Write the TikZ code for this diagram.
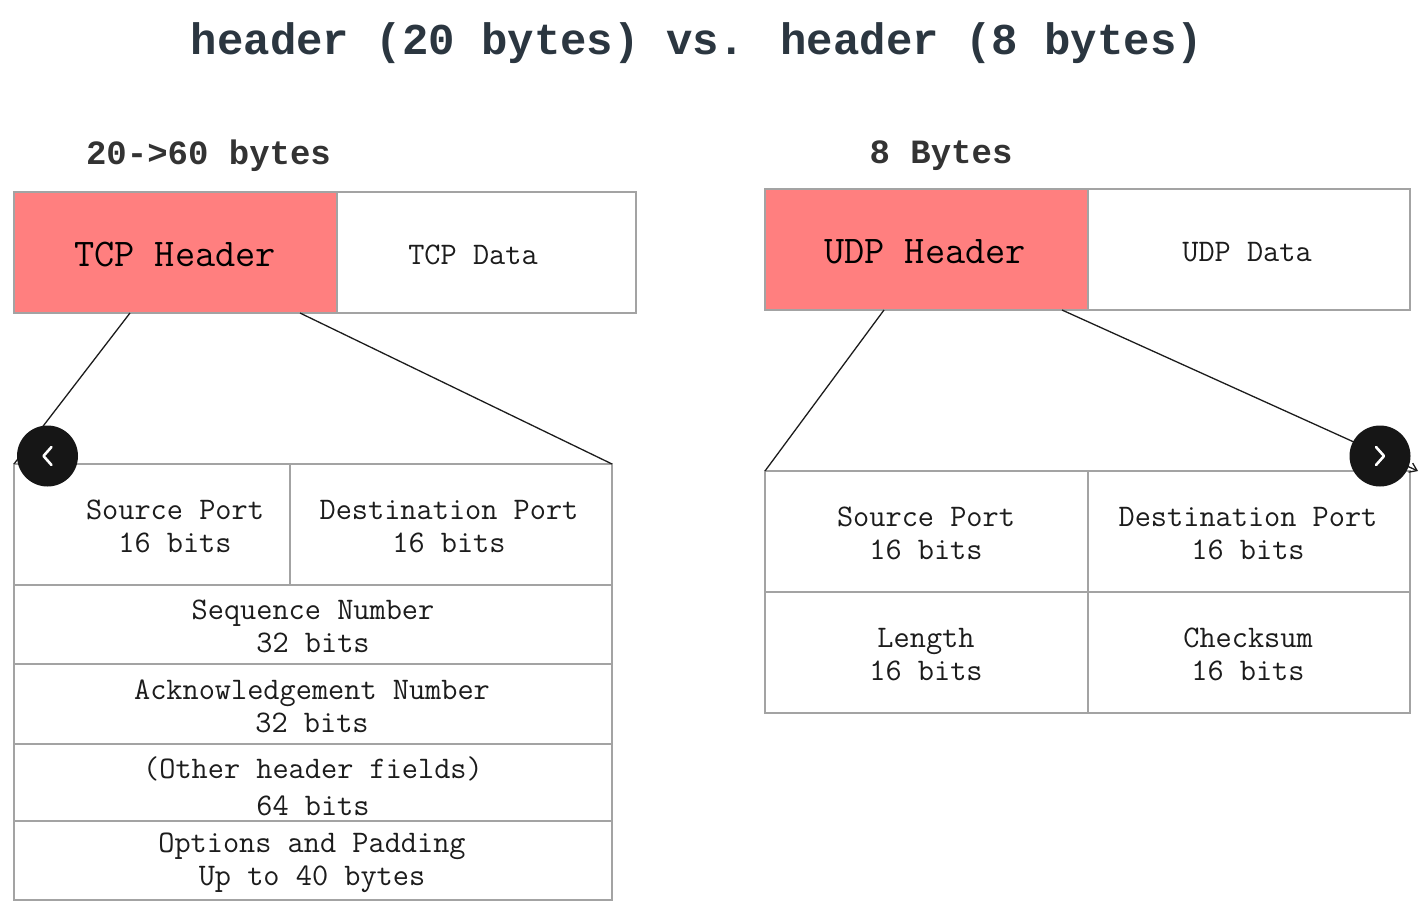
\documentclass[tikz,border=0pt]{standalone}
\usepackage{fontspec}
\setmainfont{Liberation Mono}
\usetikzlibrary{calc,arrows.meta}
\definecolor{hdr}{HTML}{FF7F7F}
\definecolor{gridc}{HTML}{A3A3A3}
\definecolor{ink}{HTML}{1C1C1C}
\definecolor{titleink}{HTML}{2B3640}
\definecolor{subink}{HTML}{333333}
\definecolor{btn}{HTML}{161616}
\begin{document}
\begin{tikzpicture}[x=1pt,y=-1pt,
  box/.style={draw=gridc,line width=1.5pt,inner sep=0pt,outer sep=0pt,anchor=north west,fill=white},
  hbox/.style={box,fill=hdr},
  lbl/.style={inner sep=0pt,align=center,text=ink,font=\ttfamily\fontsize{31.4}{33}\selectfont},
  hlbl/.style={inner sep=0pt,text=black,font=\ttfamily\fontsize{39.2}{44}\selectfont},
  sub/.style={inner sep=0pt,text=subink,font=\fontsize{34}{40}\selectfont\bfseries},
  conn/.style={draw=ink,line width=1.3pt},
  btnc/.style={circle,fill=btn,minimum size=61pt,inner sep=0pt},
  chev/.style={draw=white,line width=2.6pt,line cap=round,line join=round}]
\useasboundingbox (0,0) rectangle (1426,913);
% title and subtitles
\node[inner sep=0pt,text=titleink,font=\fontsize{44}{50}\selectfont\bfseries] (title) at (697,43) {header (20 bytes) vs. header (8 bytes)};
\node[sub] (tcpsize) at (208.5,156) {20->60 bytes};
\node[sub] (udpsize) at (941,156) {8 Bytes};
% connector end points
\coordinate (tcpa) at (130,313);
\coordinate (tcpb) at (300,313);
\coordinate (udpa) at (884,310);
\coordinate (udpb) at (1062,310);
\coordinate (udpend) at (1418,471);
% TCP segment
\node[hbox,minimum width=323,minimum height=121] (tcph) at (14,192) {};
\node[box,minimum width=299,minimum height=121] (tcpd) at (337,192) {};
\node[hlbl] (tcphl) at (175,255) {TCP Header};
\node[lbl] (tcpdl) at (473,255) {TCP Data};
% UDP segment
\node[hbox,minimum width=323,minimum height=121] (udph) at (765,189) {};
\node[box,minimum width=322,minimum height=121] (udpd) at (1088,189) {};
\node[hlbl] (udphl) at (925,252) {UDP Header};
\node[lbl] (udpdl) at (1247,252) {UDP Data};
% TCP header table
\node[box,minimum width=276,minimum height=121] (tsrc) at (14,464) {};
\node[box,minimum width=322,minimum height=121] (tdst) at (290,464) {};
\node[box,minimum width=598,minimum height=79] (tseq) at (14,585) {};
\node[box,minimum width=598,minimum height=80] (tack) at (14,664) {};
\node[box,minimum width=598,minimum height=77] (toth) at (14,744) {};
\node[box,minimum width=598,minimum height=79] (topt) at (14,821) {};
\node[lbl] (tsrcl) at (175,526.5) {Source Port\\16 bits};
\node[lbl] (tdstl) at (449,526.5) {Destination Port\\16 bits};
\node[lbl] (tseql) at (313,626.5) {Sequence Number\\32 bits};
\node[lbl] (tackl) at (312,706.5) {Acknowledgement Number\\32 bits};
\node[lbl] (tothl) at (313,786.5) {(Other header fields)\\[4pt]64 bits};
\node[lbl] (toptl) at (312,862.5) {Options and Padding\\Up to 40 bytes};
% UDP header table
\node[box,minimum width=323,minimum height=121] (usrc) at (765,471) {};
\node[box,minimum width=322,minimum height=121] (udst) at (1088,471) {};
\node[box,minimum width=323,minimum height=121] (ulen) at (765,592) {};
\node[box,minimum width=322,minimum height=121] (uchk) at (1088,592) {};
\node[lbl] (usrcl) at (926,533.5) {Source Port\\16 bits};
\node[lbl] (udstl) at (1248,533.5) {Destination Port\\16 bits};
\node[lbl] (ulenl) at (926,654.5) {Length\\16 bits};
\node[lbl] (uchkl) at (1248,654.5) {Checksum\\16 bits};
% connectors
\draw[conn] (tcpa) -- (tsrc.north west);
\draw[conn] (tcpb) -- (tdst.north east);
\draw[conn] (udpa) -- (usrc.north west);
\draw[conn,-{Straight Barb[length=7pt,width=10pt]}] (udpb) -- (udpend);
% navigation buttons
\node[btnc] (prev) at (47.5,456) {};
\node[btnc] (next) at (1380,456) {};
\draw[chev] ($(prev)+(4,-9)$) -- ($(prev)+(-4,0)$) -- ($(prev)+(4,9)$);
\draw[chev] ($(next)+(-4,-9)$) -- ($(next)+(4,0)$) -- ($(next)+(-4,9)$);
\end{tikzpicture}
\end{document}
